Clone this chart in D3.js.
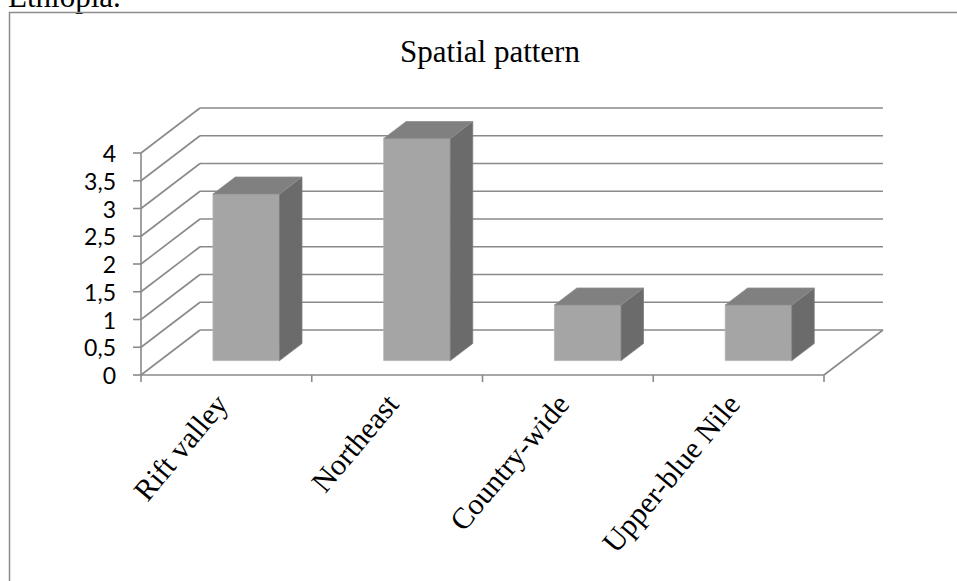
<!DOCTYPE html>
<html>
<head>
<meta charset="utf-8">
<script src="https://cdn.jsdelivr.net/npm/d3@7"></script>
<style>
  body { margin: 0; background: #fff; }
  svg { display: block; }
</style>
</head>
<body>
<div id="chart"></div>
<script>
// Chart data
const categories = ['Rift valley', 'Northeast', 'Country-wide', 'Upper-blue Nile'];
const values = [3, 4, 1, 1];
const yTicks = [0, 0.5, 1, 1.5, 2, 2.5, 3, 3.5, 4];

const width = 957;
const height = 581;

// front plane of the 3D box, and depth offset to the back wall
const plot = { left: 141, right: 824, top: 153, bottom: 375 };
const depth = { dx: 59, dy: -45 };
const barDepth = [0.32, 0.70];
const gridColor = '#8a8a8a';

const svg = d3.select('#chart')
    .append('svg')
    .attr('width', width)
    .attr('height', height);

// text of the surrounding document, cut off at the top
svg.append('text')
    .attr('x', -10)
    .attr('y', 7)
    .attr('font-family', 'Liberation Serif, Times New Roman, serif')
    .attr('font-size', 31)
    .text('r Ethiopia.');

// chart frame (continues past the right and bottom edges)
svg.append('rect')
    .attr('x', 9.5)
    .attr('y', 12.5)
    .attr('width', 1000)
    .attr('height', 700)
    .attr('fill', 'none')
    .attr('stroke', '#8c8c8c')
    .attr('stroke-width', 1.5);

// title
svg.append('text')
    .attr('x', 490)
    .attr('y', 62)
    .attr('text-anchor', 'middle')
    .attr('font-family', 'Liberation Serif, Times New Roman, serif')
    .attr('font-size', 31)
    .text('Spatial pattern');

// scales
const x = d3.scaleBand()
    .domain(categories)
    .range([plot.left, plot.right])
    .padding(0);

const y = d3.scaleLinear()
    .domain([0, 4])
    .range([plot.bottom, plot.top]);

const grid = svg.append('g')
    .attr('fill', 'none')
    .attr('stroke', gridColor)
    .attr('stroke-width', 1.6);

// back wall gridlines
grid.selectAll('.back')
    .data(yTicks)
    .enter().append('line')
    .attr('x1', plot.left + depth.dx)
    .attr('x2', plot.right + depth.dx)
    .attr('y1', d => y(d) + depth.dy)
    .attr('y2', d => y(d) + depth.dy);

// side wall gridlines
grid.selectAll('.side')
    .data(yTicks)
    .enter().append('line')
    .attr('x1', plot.left)
    .attr('x2', plot.left + depth.dx)
    .attr('y1', d => y(d))
    .attr('y2', d => y(d) + depth.dy);

// floor front edge and right edge
grid.append('line')
    .attr('x1', plot.left).attr('x2', plot.right)
    .attr('y1', y(0)).attr('y2', y(0));
grid.append('line')
    .attr('x1', plot.right).attr('x2', plot.right + depth.dx)
    .attr('y1', y(0)).attr('y2', y(0) + depth.dy);

// vertical axis
grid.append('line')
    .attr('x1', plot.left).attr('x2', plot.left)
    .attr('y1', y(0)).attr('y2', y(4));

// y ticks
grid.selectAll('.ytick')
    .data(yTicks)
    .enter().append('line')
    .attr('x1', plot.left - 8).attr('x2', plot.left)
    .attr('y1', d => y(d)).attr('y2', d => y(d));

// x ticks at category boundaries
const xEdges = categories.map(c => x(c)).concat([plot.right]);
grid.selectAll('.xtick')
    .data(xEdges)
    .enter().append('line')
    .attr('x1', d => d).attr('x2', d => d)
    .attr('y1', y(0)).attr('y2', y(0) + 7);

// y labels
svg.append('g')
    .attr('font-family', 'Lato, Noto Sans, sans-serif')
    .attr('font-size', 23)
    .attr('text-anchor', 'end')
    .selectAll('text')
    .data(yTicks)
    .enter().append('text')
    .attr('x', plot.left - 25)
    .attr('y', d => y(d) + 9)
    .text(d => String(d).replace('.', ','));

// 3D bars
const bw = x.bandwidth() * 0.39;
const bars = svg.append('g')
    .selectAll('g')
    .data(categories.map((c, i) => ({ c, v: values[i] })))
    .enter().append('g');

function pt(px, py, f) {
    return [px + depth.dx * f, py + depth.dy * f];
}

bars.each(function(d) {
    const g = d3.select(this);
    const x0 = x(d.c) + x.bandwidth() / 2 - bw / 2 + 1;
    const x1 = x0 + bw;
    const yb = y(0), yt = y(d.v);
    const [f0, f1] = barDepth;
    const poly = p => p.map(q => q.join(',')).join(' ');

    // front face
    g.append('polygon')
        .attr('points', poly([pt(x0, yb, f0), pt(x1, yb, f0), pt(x1, yt, f0), pt(x0, yt, f0)]))
        .attr('fill', '#a5a5a5')
        .attr('stroke', '#b4b4b4')
        .attr('stroke-width', 0.8);
    // side face
    g.append('polygon')
        .attr('points', poly([pt(x1, yb, f0), pt(x1, yb, f1), pt(x1, yt, f1), pt(x1, yt, f0)]))
        .attr('fill', '#6b6b6b')
        .attr('stroke', '#7a7a7a')
        .attr('stroke-width', 0.8);
    // top face
    g.append('polygon')
        .attr('points', poly([pt(x0, yt, f0), pt(x1, yt, f0), pt(x1, yt, f1), pt(x0, yt, f1)]))
        .attr('fill', '#808080')
        .attr('stroke', '#8e8e8e')
        .attr('stroke-width', 0.8);
});

// rotated category labels
svg.append('g')
    .attr('font-family', 'Liberation Serif, Times New Roman, serif')
    .attr('font-size', 30)
    .attr('text-anchor', 'end')
    .selectAll('text')
    .data(categories)
    .enter().append('text')
    .attr('transform', d => `translate(${x(d) + x.bandwidth() / 2 + 3},${y(0) + 30}) rotate(-50)`)
    .text(d => d);
</script>
</body>
</html>
